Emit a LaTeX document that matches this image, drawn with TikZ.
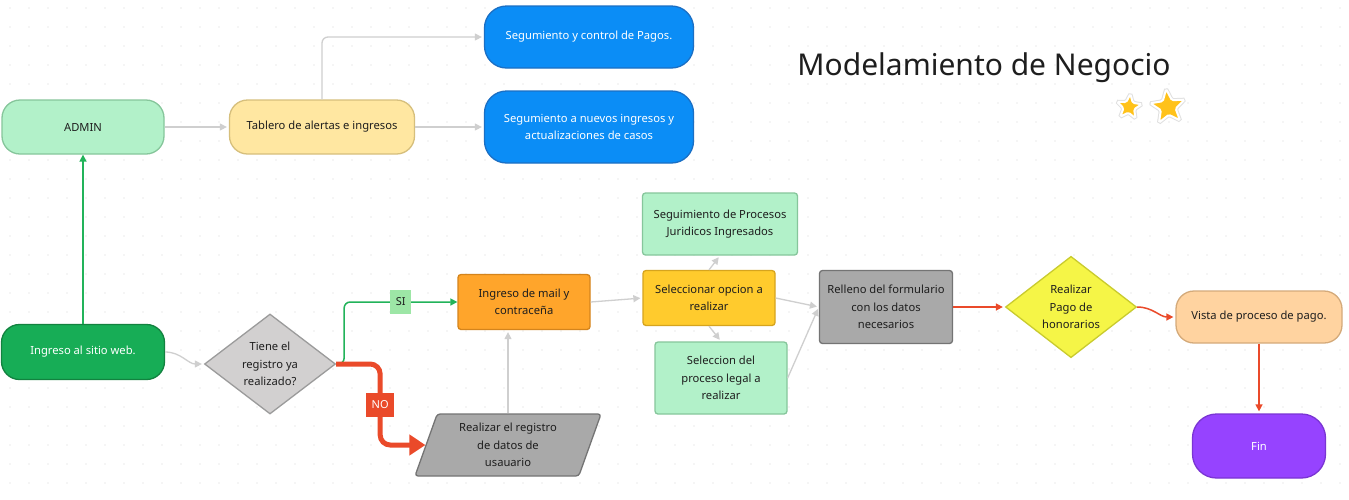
\documentclass[tikz,border=0pt]{standalone}
\usepackage{fontspec}
\setmainfont{Noto Sans}
\usepackage{tikz}
\usetikzlibrary{calc,shapes.geometric,arrows.meta}

\definecolor{ink}{HTML}{1E1E1E}
\definecolor{dotc}{HTML}{D6D6D6}
\definecolor{mint}{HTML}{B2F1C9}
\definecolor{mintline}{HTML}{86C69B}
\definecolor{cream}{HTML}{FFE7A1}
\definecolor{creamline}{HTML}{D6BF7C}
\definecolor{blue1}{HTML}{0B8DF6}
\definecolor{blueline}{HTML}{1B6FC4}
\definecolor{webgreen}{HTML}{17AD56}
\definecolor{webgreenline}{HTML}{12823F}
\definecolor{greyfill}{HTML}{D2D0D0}
\definecolor{greyline}{HTML}{9B9B9B}
\definecolor{greydark}{HTML}{A9A9A9}
\definecolor{greydarkline}{HTML}{747474}
\definecolor{orange1}{HTML}{FFA52B}
\definecolor{orangeline}{HTML}{D4841C}
\definecolor{gold}{HTML}{FFCB2D}
\definecolor{goldline}{HTML}{D6A41E}
\definecolor{lemon}{HTML}{F5F547}
\definecolor{lemonline}{HTML}{C9CB2E}
\definecolor{peach}{HTML}{FFD3A0}
\definecolor{peachline}{HTML}{D4AA7A}
\definecolor{violet1}{HTML}{9643FF}
\definecolor{violetline}{HTML}{7A35D3}
\definecolor{arrgrey}{HTML}{CFCFCF}
\definecolor{gogreen}{HTML}{22B35A}
\definecolor{sifill}{HTML}{9DE6A6}
\definecolor{nored}{HTML}{EA4A2A}
\definecolor{starfill}{HTML}{FFC21A}

\begin{document}
\begin{tikzpicture}[x=1pt,y=-1pt,
		every node/.style={font=\fontsize{11.2}{17.5}\selectfont, align=center, text=ink, line width=1.3pt, inner sep=2pt},
		rbox/.style={draw, rounded corners=18pt, minimum height=54pt},
		sbox/.style={draw, rounded corners=3pt},
		bluebox/.style={draw=blueline, fill=blue1, text=white, rounded corners=22pt, minimum width=209pt},
		dia/.style={draw, diamond, inner sep=0pt, minimum width=131pt, minimum height=100pt},
		tag/.style={sharp corners, inner sep=0pt, line width=0pt, font=\fontsize{11}{13}\selectfont},
		starry/.style={star, star points=5, star point ratio=2.3, fill=starfill, draw=white, line width=2pt, inner sep=0pt, rounded corners=1.5pt, preaction={draw=black!12, line width=4pt}},
		grey/.style={draw=arrgrey, line width=1.3pt, shorten >=2pt, -{Triangle[length=7pt,width=7pt]}},
		go/.style={draw=gogreen, line width=1.5pt, -{Triangle[length=7pt,width=7pt]}},
		nogo/.style={draw=nored, line width=5pt, -{Triangle[length=16pt,width=20pt]}},
		red1/.style={draw=nored, line width=1.5pt, shorten >=2pt, -{Triangle[length=7pt,width=7pt]}}
	]
		\fill[white] (0,0) rectangle (1349,499);
		\useasboundingbox (0,0) rectangle (1349,499);
		\foreach \i in {0,...,70}
			\foreach \j in {0,...,26}
				\fill[dotc] (10+19*\i,8+19*\j) circle (0.7pt);

		\node[font=\fontsize{30}{36}\selectfont, text=ink] (titulo) at (984,68) {Modelamiento de Negocio};
		\node[starry, minimum size=26pt, rotate=-6] (star1) at (1129,107) {};
		\node[starry, minimum size=36pt, rotate=6] (star2) at (1168,107) {};

		\node[rbox, fill=mint, draw=mintline, minimum width=162pt] (admin) at (83,127) {ADMIN};
		\node[rbox, fill=cream, draw=creamline, minimum width=185pt] (tablero) at (322,127) {Tablero de alertas e ingresos};
		\node[bluebox, minimum height=62pt] (pagos) at (589,37) {Segumiento y control de Pagos.};
		\node[bluebox, minimum height=72pt] (casos) at (589,127) {Segumiento a nuevos ingresos y\\actualizaciones de casos};

		\node[rbox, fill=webgreen, draw=webgreenline, text=white, minimum width=163pt, minimum height=55pt] (web) at (83,352) {Ingreso al sitio web.};
		\node[dia, fill=greyfill, draw=greyline] (tiene) at (270,364) {Tiene el\\registro ya\\realizado?};
		\node[sbox, fill=orange1, draw=orangeline, minimum width=132pt, minimum height=55pt] (mail) at (524,302) {Ingreso de mail y\\contraceña};
		\node[trapezium, trapezium left angle=65, trapezium right angle=115, trapezium stretches body, draw=greydarkline, fill=greydark, rounded corners=3pt, minimum width=186pt, minimum height=62pt] (reg) at (508,445) {Realizar el registro\\de datos de\\usauario};

		\node[sbox, fill=mint, draw=mintline, minimum width=155pt, minimum height=62pt] (seg) at (720,224) {Seguimiento de Procesos\\Juridicos Ingresados};
		\node[sbox, fill=gold, draw=goldline, minimum width=132pt, minimum height=55pt] (opc) at (709,298) {Seleccionar opcion a\\realizar};
		\node[sbox, fill=mint, draw=mintline, minimum width=132pt, minimum height=72pt] (legal) at (721,378) {Seleccion del\\proceso legal a\\realizar};
		\node[sbox, fill=greydark, draw=greydarkline, minimum width=133pt, minimum height=73pt] (form) at (886,307) {Relleno del formulario\\con los datos\\necesarios};
		\node[dia, fill=lemon, draw=lemonline] (pago) at (1071,307) {Realizar\\Pago de\\honorarios};
		\node[rbox, fill=peach, draw=peachline, minimum width=166pt, minimum height=52pt] (vista) at (1259,317) {Vista de proceso de pago.};
		\node[rbox, fill=violet1, draw=violetline, text=white, rounded corners=24pt, minimum width=133pt, minimum height=64pt] (fin) at (1259,446) {Fin};

		\draw[grey] (admin) -- (tablero);
		\draw[grey, rounded corners=6pt] (tablero.north) |- (pagos.west);
		\draw[grey] (tablero) -- (casos);
		\draw[go] (web.north) -- (admin.south);
		\draw[grey] (web.east) to[out=0,in=180] (tiene.west);
		\draw[go, rounded corners=6pt] (tiene.east) -- ++(8,0) |- node[pos=0.75, tag, fill=sifill, minimum width=21pt, minimum height=24pt, font=\fontsize{11}{13}\selectfont\bfseries] {SI} (mail.west);
		\draw[nogo, rounded corners=10pt] (tiene.east) -- ++(44,0) |- node[pos=0.25, tag, fill=nored, text=white, minimum width=28pt, minimum height=24pt] {NO} (reg.west);
		\draw[grey] (reg.north) -- (reg.north |- mail.south);
		\draw[grey] (mail.east) -- (opc.west);
		\draw[grey] (opc.north) -- (seg.south);
		\draw[grey] (opc.south) -- (legal.north);
		\draw[grey] (opc.east) -- (form.west);
		\draw[grey] (legal.east) -- (form.west);
		\draw[red1] (form) -- (pago);
		\draw[red1] (pago.east) to[out=0,in=180] (vista.west);
		\draw[red1] (vista) -- (fin);
\end{tikzpicture}
\end{document}
